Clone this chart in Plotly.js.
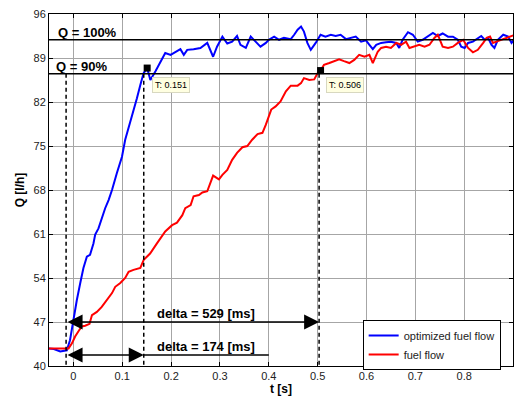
<!DOCTYPE html>
<html>
<head>
<meta charset="utf-8">
<script src="https://cdn.plot.ly/plotly-3.0.1.min.js"></script>
<style>html,body{margin:0;padding:0;background:#fff;}#chart{width:516px;height:398px;}</style>
</head>
<body>
<div id="chart"></div>
<script>
// ---- data ----
const blueT = [-0.05,-0.04,-0.027,-0.0135,-0.007,0,0.007,0.014,0.0205,0.0275,0.034,0.041,0.0446,0.0513,0.058,0.065,0.072,0.079,0.089,0.0994,0.106,0.116,0.123,0.130,0.137,0.1437,0.151,0.1575,0.168,0.188,0.199,0.209,0.219,0.226,0.233,0.246,0.260,0.274,0.286,0.294,0.305,0.315,0.325,0.335,0.342,0.353,0.363,0.373,0.383,0.394,0.400,0.411,0.421,0.431,0.445,0.452,0.459,0.466,0.472,0.479,0.486,0.496,0.506,0.516,0.527,0.537,0.547,0.558,0.568,0.578,0.589,0.599,0.606,0.613,0.620,0.630,0.640,0.650,0.661,0.667,0.674,0.685,0.695,0.705,0.715,0.726,0.736,0.746,0.756,0.767,0.777,0.787,0.794,0.801,0.808,0.818,0.828,0.835,0.842,0.849,0.856,0.862,0.869,0.880,0.890,0.897,0.902];
const blueQ = [42.8,42.7,42.3,42.5,44.1,47.6,50.5,53.2,55.6,57.4,57.7,59.5,60.9,61.9,63.5,65.1,66.4,68.0,70.7,73.3,76.0,78.6,80.5,82.6,84.7,86.6,87.4,85.5,86.9,89.8,89.5,90.0,90.4,89.5,90.3,90.4,90.6,91.4,89.2,90.8,92.4,91.3,91.6,92.5,91.1,90.6,92.4,91.6,90.8,91.4,91.9,92.4,91.9,92.2,92.0,92.7,93.5,94.0,93.2,91.4,90.3,91.4,92.7,92.4,92.7,92.5,92.7,92.0,92.2,92.4,91.6,91.8,91.1,90.4,91.1,91.4,91.5,91.6,91.4,90.6,91.9,93.1,92.7,91.6,91.9,92.5,93.0,92.5,92.9,92.4,92.4,91.9,90.8,90.6,91.4,91.6,92.2,92.5,91.9,92.2,91.1,90.6,91.9,92.7,92.4,91.4,91.9];
const redT = [-0.05,-0.03,-0.010,-0.003,0.0035,0.010,0.017,0.024,0.033,0.038,0.048,0.058,0.0686,0.079,0.0856,0.096,0.106,0.113,0.123,0.137,0.144,0.157,0.171,0.188,0.202,0.212,0.223,0.229,0.240,0.246,0.257,0.264,0.274,0.281,0.286,0.298,0.305,0.315,0.325,0.335,0.346,0.356,0.366,0.377,0.387,0.394,0.400,0.405,0.414,0.424,0.435,0.445,0.459,0.466,0.472,0.483,0.493,0.500,0.506,0.513,0.524,0.534,0.544,0.554,0.565,0.575,0.585,0.596,0.606,0.613,0.623,0.630,0.640,0.650,0.661,0.671,0.681,0.688,0.698,0.708,0.719,0.729,0.739,0.746,0.756,0.767,0.777,0.787,0.798,0.808,0.818,0.828,0.839,0.846,0.853,0.859,0.866,0.876,0.887,0.897,0.904];
const redQ = [42.8,42.8,42.8,43.6,44.7,45.5,46.3,46.4,46.7,48.1,48.6,49.4,50.5,51.6,52.6,53.2,54.0,55.0,55.3,55.6,56.9,57.9,59.5,61.4,62.4,62.8,64.0,65.1,65.6,67.0,67.2,67.6,67.8,69.1,70.3,69.7,70.4,71.2,72.8,73.9,74.8,75.0,76.0,76.9,77.1,78.4,79.7,80.8,81.3,82.1,83.7,84.6,84.6,85.0,85.8,85.5,85.6,86.6,87.0,87.9,88.2,88.5,88.8,88.5,88.2,88.7,89.5,89.2,89.5,88.2,90.0,90.6,90.8,90.6,91.4,91.1,91.6,90.6,90.8,91.1,90.8,91.1,92.2,92.7,90.8,90.6,90.8,91.4,91.9,90.6,89.9,90.3,91.4,92.2,92.4,91.4,91.6,91.9,92.2,92.5,92.7];
const seriesNames = ["optimized fuel flow", "fuel flow"];
const tipT = [0.151, 0.506];
const tipQ = [87.4, 87.0];
const tipLabels = ["T: 0.151", "T: 0.506"];
const q100 = 91.9, q90 = 86.5;
const refLabels = ["Q = 100%", "Q = 90%"];
const dashT = [-0.015, 0.144, 0.503];
const deltaStart = -0.015;
const deltaEnds = [0.503, 0.144];
const deltaLevels = [47.0, 41.75];
const deltaLabels = ["delta = 529 [ms]", "delta = 174 [ms]"];
const xTicks = [0,0.1,0.2,0.3,0.4,0.5,0.6,0.7,0.8,0.9];
const xTickText = ["0","0.1","0.2","0.3","0.4","0.5","0.6","0.7","0.8","0.9"];
const yTicks = [40,47,54,61,68,75,82,89,96];

const FONT = "Liberation Sans, Arial, Helvetica, sans-serif";

const traces = [
  {x: blueT, y: blueQ, type: "scatter", mode: "lines", name: seriesNames[0],
   line: {color: "#0000ff", width: 2}},
  {x: redT, y: redQ, type: "scatter", mode: "lines", name: seriesNames[1],
   line: {color: "#ff0000", width: 2}},
  {x: tipT, y: tipQ, type: "scatter", mode: "markers", showlegend: false,
   marker: {symbol: "square", size: 7, color: "#000", line: {color: "#000", width: 0}}}
];

const shapes = [
  {type: "line", xref: "paper", x0: 0, x1: 1, yref: "y", y0: q100, y1: q100, line: {color: "#000", width: 1.5}},
  {type: "line", xref: "paper", x0: 0, x1: 1, yref: "y", y0: q90, y1: q90, line: {color: "#000", width: 1.5}},
  {type: "line", xref: "x", x0: deltaEnds[1], x1: 0.4, yref: "y", y0: deltaLevels[1], y1: deltaLevels[1], line: {color: "#000", width: 1.5}}
];
dashT.forEach(t => shapes.push({type: "line", xref: "x", x0: t, x1: t, yref: "y", y0: q90, y1: 40,
  line: {color: "#000", width: 1.5, dash: "4px,3px"}}));

const annotations = [
  {x: 0.028, y: 93.0, xref: "x", yref: "y", text: refLabels[0], showarrow: false,
   font: {family: FONT, size: 13, color: "#000", weight: "bold"}},
  {x: 0.017, y: 87.6, xref: "x", yref: "y", text: refLabels[1], showarrow: false,
   font: {family: FONT, size: 13, color: "#000", weight: "bold"}},
];
deltaLevels.forEach((lv, i) => {
  annotations.push({x: deltaEnds[i], y: lv, ax: deltaStart, ay: lv, xref: "x", yref: "y", axref: "x", ayref: "y",
    text: "", showarrow: true, arrowhead: 2, startarrowhead: 2, arrowside: "end+start",
    arrowsize: 2, startarrowsize: 2, arrowwidth: 1.5, arrowcolor: "#000", standoff: 0, startstandoff: 0});
  annotations.push({x: 0.272, y: lv + 1.4, xref: "x", yref: "y", text: deltaLabels[i], showarrow: false,
    font: {family: FONT, size: 13, color: "#000", weight: "bold"}});
});
const tipBox = [[0.1616, 85.9], [0.5168, 86.0]];
tipLabels.forEach((s, i) => annotations.push({x: tipBox[i][0], y: tipBox[i][1], xref: "x", yref: "y",
  xanchor: "left", yanchor: "top", text: s, showarrow: false, bgcolor: "#ffffe1", bordercolor: "#d8d8c0",
  borderwidth: 1, borderpad: 2, font: {family: FONT, size: 9, color: "#000"}}));

const layout = {
  width: 516, height: 398,
  margin: {l: 49, r: 3, t: 14, b: 32, pad: 0},
  paper_bgcolor: "#fff", plot_bgcolor: "#fff",
  font: {family: FONT, size: 11, color: "#222"},
  showlegend: true,
  legend: {x: 0.676, y: 0.131, xanchor: "left", yanchor: "top", bgcolor: "#fff",
    bordercolor: "#000", borderwidth: 1, font: {family: FONT, size: 11, color: "#222"},
    tracegroupgap: 0},
  xaxis: {range: [-0.05, 0.9], tickvals: xTicks, ticktext: xTickText, ticks: "inside", ticklen: 4,
    tickcolor: "#000", showline: true, linecolor: "#000", linewidth: 1, mirror: "ticks",
    showgrid: true, gridcolor: "#a6a6a6", gridwidth: 1, zeroline: false,
    tickfont: {family: FONT, size: 11, color: "#222"},
    title: {text: "t [s]", standoff: 2, font: {family: FONT, size: 12, color: "#000", weight: "bold"}}},
  yaxis: {range: [40, 96], tickvals: yTicks, ticks: "inside", ticklen: 4,
    tickcolor: "#000", showline: true, linecolor: "#000", linewidth: 1, mirror: "ticks",
    showgrid: true, gridcolor: "#a6a6a6", gridwidth: 1, zeroline: false,
    tickfont: {family: FONT, size: 11, color: "#222"},
    title: {text: "Q [l/h]", standoff: 6, font: {family: FONT, size: 12, color: "#000", weight: "bold"}}},
  shapes: shapes,
  annotations: annotations
};

Plotly.newPlot("chart", traces, layout, {displayModeBar: false, staticPlot: true});
</script>
</body>
</html>
